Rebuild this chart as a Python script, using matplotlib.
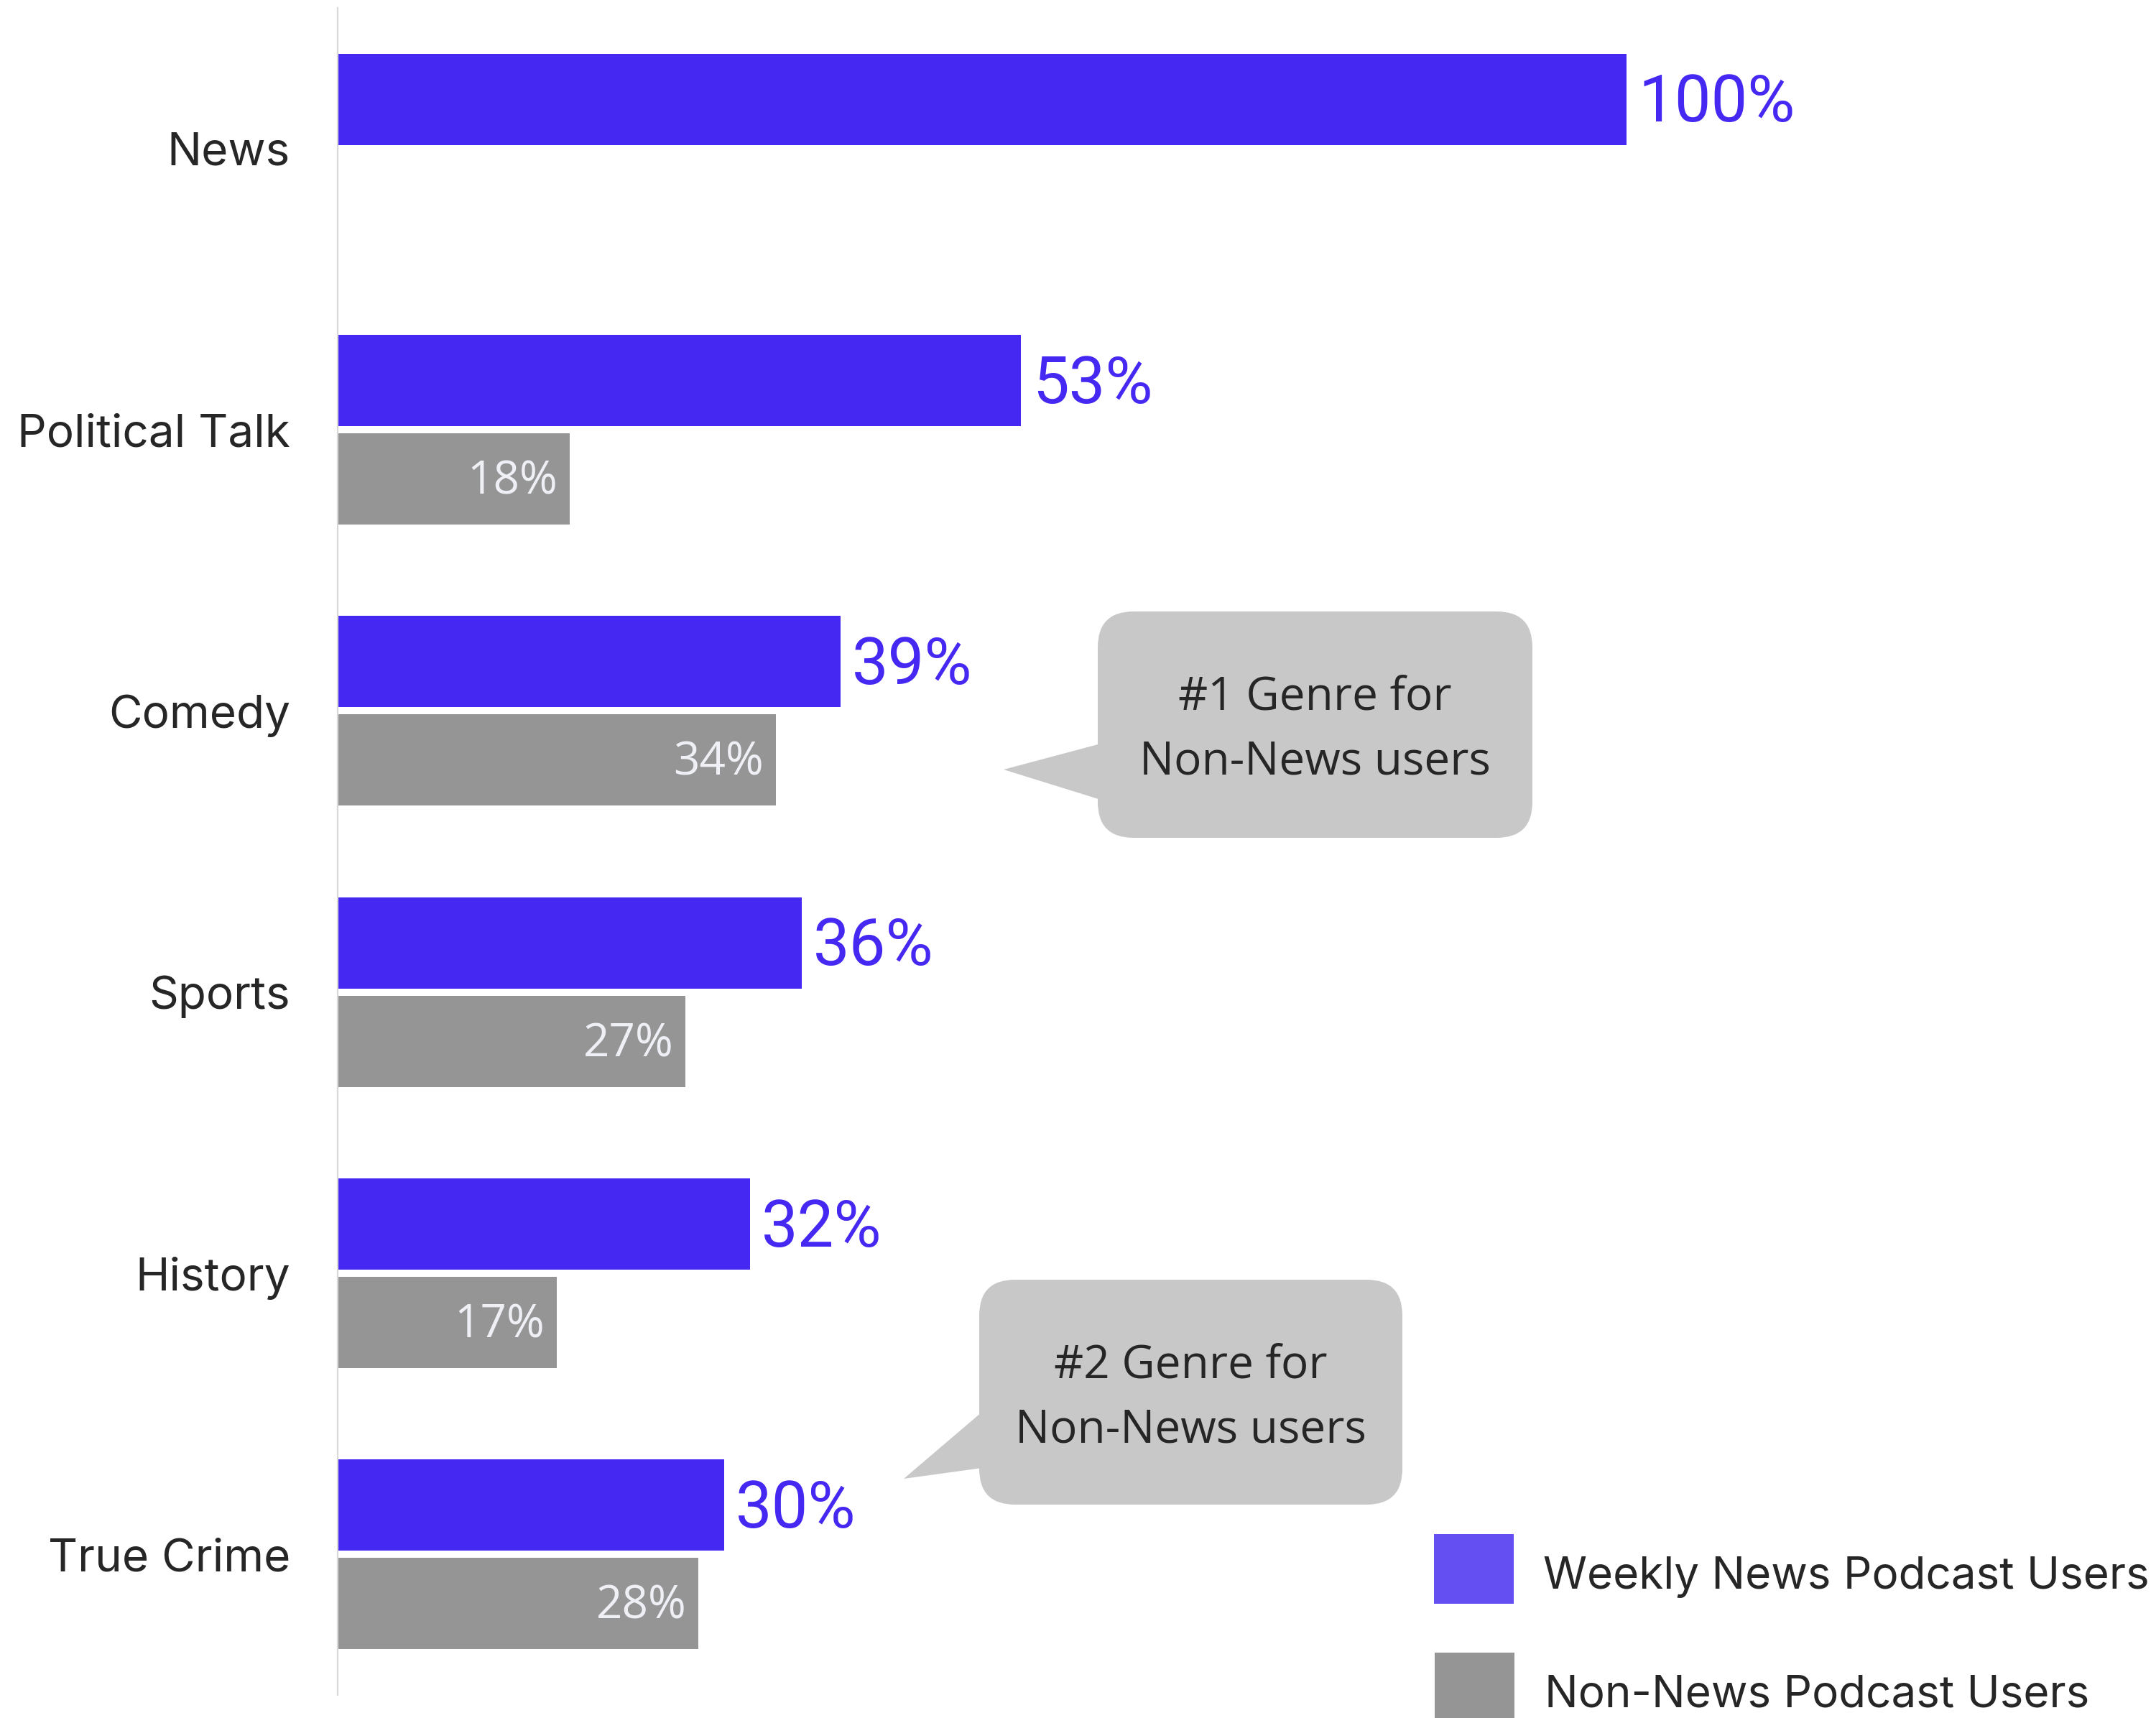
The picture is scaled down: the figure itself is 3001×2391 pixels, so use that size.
import numpy as np
import matplotlib.pyplot as plt
from matplotlib import transforms
from matplotlib.patches import FancyBboxPatch, Polygon, Rectangle

# share of listeners per genre
genres = ['News', 'Political Talk', 'Comedy', 'Sports', 'History', 'True Crime']
weekly_news = [100, 53, 39, 36, 32, 30]
non_news = [np.nan, 18, 34, 27, 17, 28]
legend_labels = ['Weekly News Podcast Users', 'Non-News Podcast Users']

BLUE = '#4529F3'
BLUE_LEG = '#6450F2'
GREY = '#959595'
BUBBLE = '#C8C8C8'
DARK = '#262626'

W, H = 3001, 2391
fig = plt.figure(figsize=(W / 100, H / 100), dpi=100)
# pixel coords with origin at top-left, for the callouts and legend
pix = transforms.Affine2D().scale(1, -1).translate(0, H)

ax = fig.add_axes([470 / W, 32 / H, 1 - 470 / W, 2348 / H])
y = np.arange(len(genres))
ax.barh(y - 0.175, weekly_news, height=0.325, color=BLUE)
ax.barh(y + 0.175, non_news, height=0.325, color=GREY)
ax.set_xlim(0, (W - 470) / 17.94)
ax.set_ylim(5.5, -0.5)

for i, v in enumerate(weekly_news):
    ax.annotate(f'{v}%', (v, i - 0.175), xytext=(16, -6), textcoords='offset pixels',
                ha='left', va='center', color=BLUE, fontsize=65, family='Roboto')
for i, v in enumerate(non_news):
    if np.isnan(v):
        continue
    ax.annotate(f'{v:.0f}%', (v, i + 0.175), xytext=(-17, -4), textcoords='offset pixels',
                ha='right', va='center', color='#EEF0F6', fontsize=46, family='Open Sans')

ax.set_yticks(y, genres, fontsize=46, family='Inter', color=DARK)
ax.set_xticks([])
ax.tick_params(axis='y', length=0, pad=47.5)
for s in ['top', 'right', 'bottom']:
    ax.spines[s].set_visible(False)
ax.spines['left'].set_color('#D9D9D9')
ax.spines['left'].set_linewidth(1.6)


def bubble(box, tip, lines, baselines):
    x0, y0, x1, y1 = box
    fig.add_artist(FancyBboxPatch((x0, y0), x1 - x0, y1 - y0,
                                  boxstyle='round,pad=0,rounding_size=50',
                                  fc=BUBBLE, ec='none', transform=pix))
    fig.add_artist(Polygon(tip, closed=True, fc=BUBBLE, ec='none', transform=pix))
    xc = (x0 + x1) / 2
    for line, b in zip(lines, baselines):
        fig.text(xc, b, line, transform=pix, ha='center', va='baseline',
                 fontsize=46, family='Open Sans', color=DARK)


bubble((1528, 851, 2133, 1166), [(1532, 1035), (1397, 1071), (1532, 1113)],
       ['#1 Genre for', 'Non-News users'], [988, 1078])
bubble((1363, 1781, 1952, 2094), [(1367, 1965), (1258, 2058), (1367, 2043)],
       ['#2 Genre for', 'Non-News users'], [1917, 2008])

# legend
fig.add_artist(Rectangle((1996, 2135), 111, 97, fc=BLUE_LEG, ec='none', transform=pix))
fig.add_artist(Rectangle((1997, 2300), 111, 97, fc=GREY, ec='none', transform=pix))
fig.text(2148, 2211, legend_labels[0], transform=pix, ha='left', va='baseline',
         fontsize=44.6, family='Inter', color=DARK)
fig.text(2150, 2375, legend_labels[1], transform=pix, ha='left', va='baseline',
         fontsize=44.6, family='Inter', color=DARK)

fig.savefig('out.png', dpi=100, facecolor='white')
